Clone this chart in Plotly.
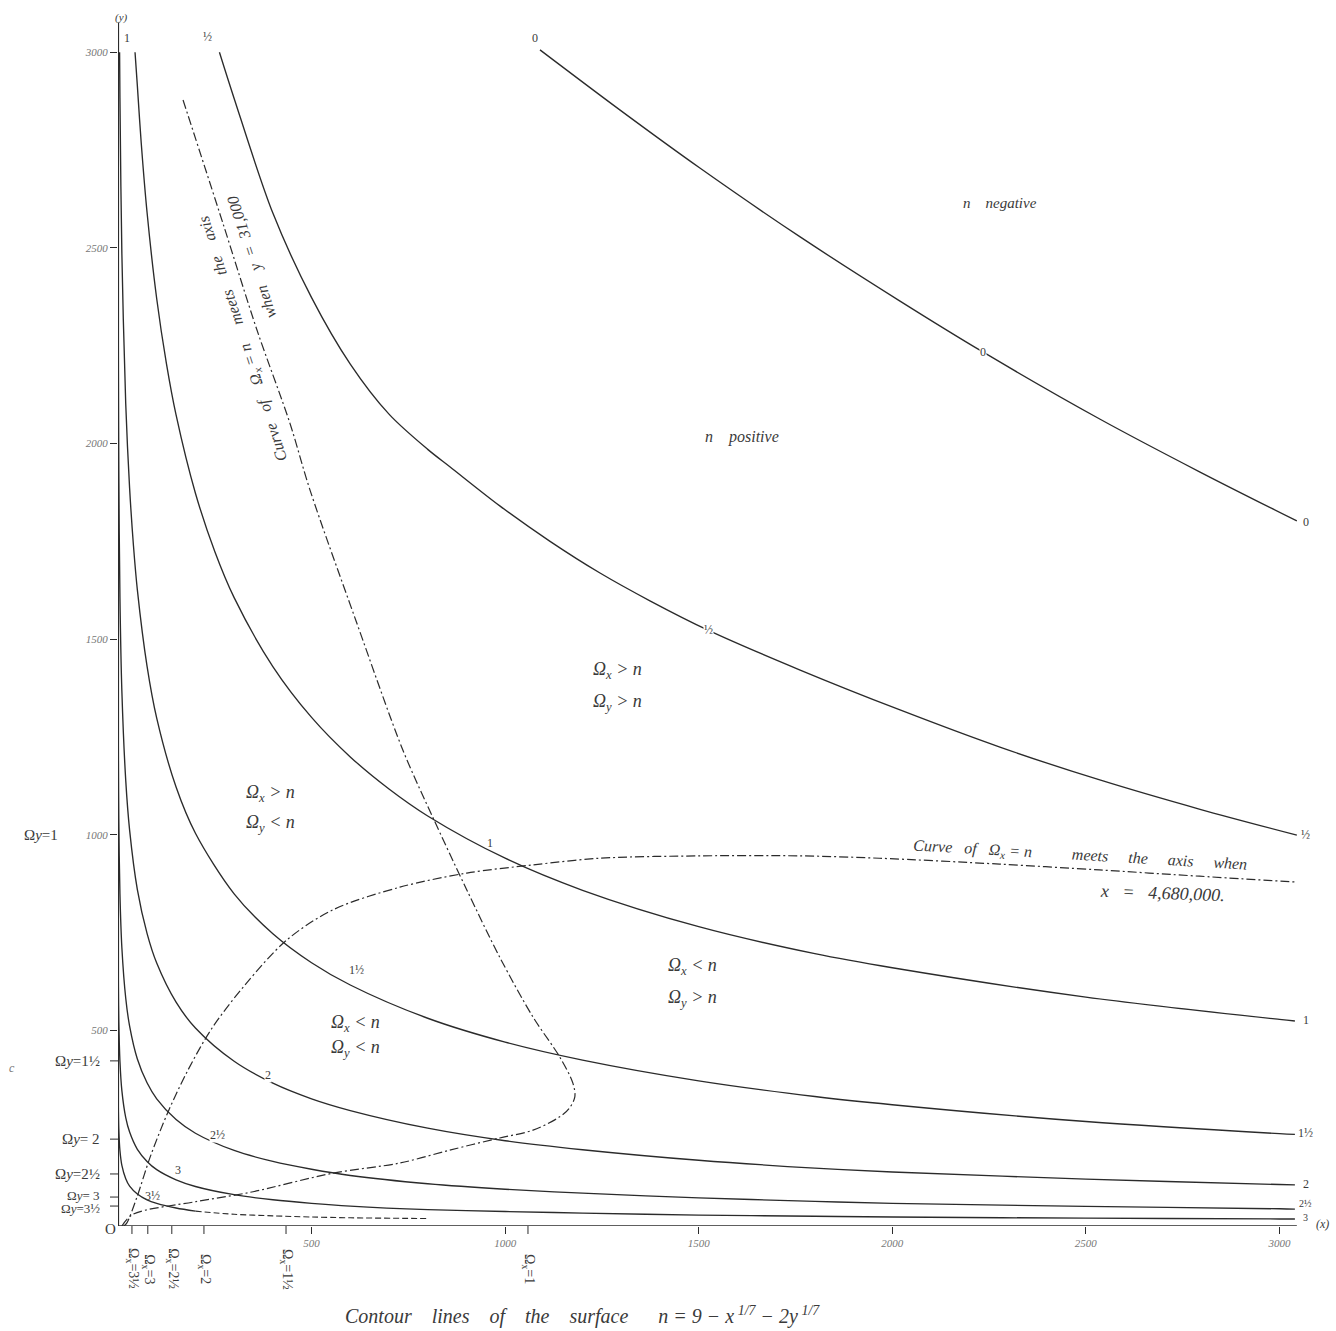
import plotly.graph_objects as go

# ---------------- data ----------------
N0_X = [1090, 1297, 1503, 1762, 2020, 2234, 2537, 2795, 3045]
N0_Y = [3006, 2852, 2704, 2528, 2364, 2234, 2062, 1927, 1802]

N05_X = [262, 300, 400, 500, 600, 700, 800, 858, 987, 1116, 1245, 1374, 1524, 1762, 2020, 2278, 2536,
         2795, 3045]
N05_Y = [3000, 2882, 2589, 2373, 2203, 2075, 1985, 1940, 1840, 1750, 1669, 1598, 1523, 1421, 1319, 1224,
         1140, 1065, 999]

N1_X = [44, 50, 60, 75, 100, 125, 150, 200, 250, 300, 400, 500, 600, 700, 800, 1000, 1200, 1500,
        1800, 2000, 2500, 3000, 3040]
N1_Y = [3000, 2914, 2768, 2591, 2370, 2205, 2073, 1873, 1724, 1606, 1430, 1300, 1199, 1117, 1048,
        940, 858, 765, 696, 660, 585, 528, 524]

N15_X = [4.1, 5, 10, 20, 30, 40, 50, 75, 100, 150, 200, 300, 400, 500, 600, 800, 1000, 1200, 1500,
         1800, 2000, 2500, 3000, 3040]
N15_Y = [3000, 2883, 2485, 2101, 1886, 1738, 1626, 1431, 1298, 1122, 1004, 849, 747, 673, 616, 531,
         470, 424, 371, 331, 310, 267, 236, 234]

N2_X = [0.103, 0.5, 1, 2, 5, 10, 20, 30, 50, 75, 100, 150, 200, 300, 400, 500, 600, 800, 1000, 1200,
        1500, 1800, 2000, 2500, 3000, 3040]
N2_Y = [3000, 2439, 2187, 1935, 1607, 1367, 1139, 1012, 860, 748, 672, 572, 506, 421, 365, 325, 295,
        250, 218, 195, 168, 148, 138, 120, 106, 105]

N25_X = [0.00003, 0.0001, 0.001, 0.01, 0.1, 0.5, 1, 2, 5, 10, 20, 30, 50, 75, 100, 150, 200, 300,
         400, 500, 600, 800, 1000, 1200, 1500, 1800, 2000, 2500, 3000, 3040]
N25_Y = [3000, 2851, 2533, 2141, 1685, 1340, 1189, 1040, 849, 711, 582, 511, 427, 366, 325, 272, 237,
         193, 165, 145, 129, 108, 94, 84, 72, 63, 58, 50, 44, 43]

N3_X = [0.0001, 0.001, 0.01, 0.1, 0.5, 1, 2, 5, 10, 20, 30, 50, 75, 100, 150, 200, 300, 400, 500,
        600, 800, 1000, 1200, 1500, 1800, 2000, 2500, 3000, 3040]
N3_Y = [1588, 1396, 1162, 894, 696, 610, 527, 421, 346, 277, 240, 196, 165, 144, 118, 101, 80, 67,
        58, 51, 42, 37, 33, 28, 25, 23, 20, 18, 18]

N35_X = [0.0001, 0.001, 0.01, 0.1, 0.5, 1, 2, 5, 10, 20, 30, 50, 75, 100, 150, 200]
N35_Y = [838, 728, 595, 446, 338, 292, 248, 193, 155, 121, 102, 82, 67, 58, 46, 38]
N35D_X = [200, 300, 400, 500, 600, 800]
N35D_Y = [38, 30, 26, 23, 21, 19]

# curve of Omega_x = n (flat dash-dot)
OMX_X = [15, 23, 49, 83, 129, 181, 243, 328, 436, 555, 728, 901, 1072, 1245, 1503, 1761, 1967, 2277,
         2535, 2794, 3044]
OMX_Y = [0, 8, 74, 176, 291, 399, 506, 616, 731, 808, 866, 902, 923, 940, 946, 946, 940, 925, 910,
         894, 879]

# steep dash-dot loop
OMY_X = [168, 271, 359, 444, 496, 614, 736, 813, 901, 986, 1072, 1141, 1175, 1180, 1165, 1141, 1072,
         986, 857, 728, 555, 341, 200, 39, 10]
OMY_Y = [2878, 2563, 2290, 2052, 1881, 1549, 1216, 1045, 859, 687, 534, 432, 365, 330, 300, 279, 245,
         225, 194, 161, 135, 86, 62, 30, 0]

X_TICKS = [500, 1000, 1500, 2000, 2500, 3000]
Y_TICKS = [500, 1000, 1500, 2000, 2500, 3000]
OMX_TICKS = [36, 77, 139, 222, 434, 1059]
OMX_LABELS = ["Ω<sub>x</sub>=3½", "Ω<sub>x</sub>=3", "Ω<sub>x</sub>=2½", "Ω<sub>x</sub>=2",
              "Ω<sub>x</sub>=1½", "Ω<sub>x</sub>=1"]
OMY_TICKS = [1000, 422, 222, 133, 74, 51]
OMY_LABELS = ["Ωy=1", "Ωy=1½", "Ωy= 2", "Ωy=2½", "Ωy= 3", "Ωy=3½"]

CURVE_LABELS = ["0", "0", "0", "½", "½", "½", "1", "1", "1", "1½", "1½", "2", "2", "2½", "2½",
                "3", "3", "3½"]
CURVE_LABEL_X = [1077, 2234, 3068, 230, 1524, 3068, 23, 960, 3068, 617, 3068, 387, 3068, 258, 3068,
                 155, 3068, 90]
CURVE_LABEL_Y = [3036, 2234, 1799, 3039, 1523, 999, 3036, 978, 526, 654, 238, 386, 107, 233, 58,
                 143, 22, 77]
CURVE_LABEL_BG = [False, True, False, False, True, False, False, False, False, True, False, True,
                  False, True, False, False, False, False]

# ---------------- layout geometry ----------------
W, H = 1336, 1331
ML, MR, MT, MB = 118, 14, 10, 105
XR = [0, 3110]
YR = [0, 3108]
PW = W - ML - MR
PH = H - MT - MB


def px(xp, yp):
    return (xp - ML) / PW, (H - MB - yp) / PH


INK = "#2b2b2b"
TXT = "#3a3a3a"
SERIF = "Liberation Serif, DejaVu Serif, serif"

fig = go.Figure()


def add_curve(xs, ys, dash="solid", width=1.35):
    fig.add_trace(go.Scatter(x=xs, y=ys, mode="lines",
                             line=dict(color=INK, width=width, dash=dash, shape="spline", smoothing=0.9),
                             hoverinfo="skip", showlegend=False))


for xs, ys in [(N0_X, N0_Y), (N05_X, N05_Y), (N1_X, N1_Y), (N15_X, N15_Y), (N2_X, N2_Y),
               (N25_X, N25_Y), (N3_X, N3_Y), (N35_X, N35_Y)]:
    add_curve(xs, ys)
add_curve(N35D_X, N35D_Y, dash="6px,3px", width=1.1)
add_curve(OMX_X, OMX_Y, dash="9px,3px,2px,3px", width=1.2)
add_curve(OMY_X, OMY_Y, dash="9px,3px,2px,3px", width=1.2)

ann = []
for t, x, y, bg in zip(CURVE_LABELS, CURVE_LABEL_X, CURVE_LABEL_Y, CURVE_LABEL_BG):
    small = x > 3000 and t in ("2½", "3")
    ann.append(dict(text=t, x=x, y=y, xref="x", yref="y", showarrow=False,
                    bgcolor="white" if bg else "rgba(0,0,0,0)", borderpad=0,
                    font=dict(family=SERIF, size=10 if small else 12, color=TXT)))


def note(t, xp, yp, size=15, angle=0, italic=True, color=TXT, xanchor="center"):
    xx, yy = px(xp, yp)
    ann.append(dict(text=t, x=xx, y=yy, xref="paper", yref="paper", showarrow=False,
                    textangle=angle, xanchor=xanchor, yanchor="middle",
                    font=dict(family=SERIF, size=size, color=color,
                              style="italic" if italic else "normal")))


note("n    negative", 1000, 203, size=15)
note("n    positive", 742, 437, size=16)
note("Ω<sub>x</sub> > n", 617, 670, size=18)
note("Ω<sub>y</sub> > n", 617, 702, size=18)
note("Ω<sub>x</sub> > n", 270, 793, size=18)
note("Ω<sub>y</sub> < n", 270, 823, size=18)
note("Ω<sub>x</sub> < n", 692, 966, size=18)
note("Ω<sub>y</sub> > n", 692, 998, size=18)
note("Ω<sub>x</sub> < n", 355, 1023, size=18)
note("Ω<sub>y</sub> < n", 355, 1048, size=18)

note("Curve   of    Ω<sub>x</sub> = n     meets    the    axis", 243, 339, size=16, angle=-108)
note("when    y  =  31,000", 252, 257, size=16, angle=-108)
note("Curve   of   Ω<sub>x</sub> = n          meets     the     axis     when", 1080, 855, size=16,
     angle=3.3)
note("x   =   4,680,000.", 1162, 893, size=18, angle=2)

for t, yv in zip(OMY_LABELS, OMY_TICKS):
    yp = H - MB - (yv - YR[0]) / (YR[1] - YR[0]) * PH
    if yv == 74:
        yp -= 2
    if yv == 51:
        yp += 2
    note(t.replace("Ωy", "Ω<i>y</i>"), 102 if yv != 1000 else 60, yp, size=15 if yv > 100 else 13,
         italic=False, xanchor="right")

for t, xv in zip(OMX_LABELS, OMX_TICKS):
    xp = ML + (xv - XR[0]) / (XR[1] - XR[0]) * PW
    note(t, xp, 1269, size=14, angle=90, italic=False)

note("c", 12, 1068, size=12, color="#777")
note("O", 110, 1229, size=15, italic=False)
note("(y)", 121, 17, size=11)
note("(x)", 1322, 1224, size=12)
note("Contour    lines    of    the    surface      n = 9 − x<sup> 1/7</sup> − 2y<sup> 1/7</sup>", 582,
     1316, size=20)

shapes = [
    dict(type="line", xref="x", yref="y", x0=0, y0=0, x1=3045, y1=0, line=dict(color=INK, width=1.6)),
    dict(type="line", xref="x", yref="y", x0=0, y0=0, x1=0, y1=3075, line=dict(color=INK, width=2.2)),
]
for xv in OMX_TICKS:
    shapes.append(dict(type="line", xref="x", yref="paper", x0=xv, x1=xv, y0=0, y1=-8 / PH,
                       line=dict(color=INK, width=1)))
for yv in OMY_TICKS[1:]:
    shapes.append(dict(type="line", xref="paper", yref="y", x0=0, x1=-8 / PW, y0=yv, y1=yv,
                       line=dict(color=INK, width=1)))

fig.update_layout(
    width=W, height=H,
    margin=dict(l=ML, r=MR, t=MT, b=MB, pad=0),
    paper_bgcolor="white", plot_bgcolor="white",
    showlegend=False,
    annotations=ann,
    shapes=shapes,
    xaxis=dict(range=XR, showgrid=False, zeroline=False, showline=False,
               tickvals=X_TICKS, ticktext=[str(v) for v in X_TICKS],
               ticks="outside", ticklen=7, tickcolor=INK, tickwidth=1,
               tickfont=dict(family=SERIF, size=11, color="#777", style="italic")),
    yaxis=dict(range=YR, showgrid=False, zeroline=False, showline=False,
               tickvals=Y_TICKS, ticktext=[str(v) for v in Y_TICKS],
               ticks="outside", ticklen=7, tickcolor=INK, tickwidth=1,
               tickfont=dict(family=SERIF, size=11, color="#777", style="italic")),
)

fig.write_html("out.html", config={"displayModeBar": False},
               post_script="document.body.style.margin='0';")
